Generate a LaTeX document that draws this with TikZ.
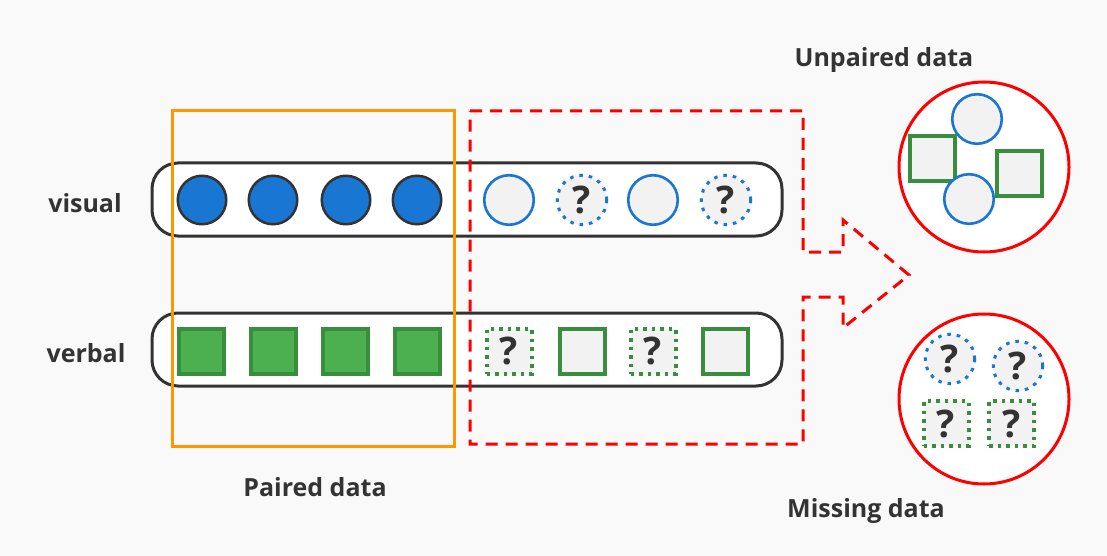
\documentclass[tikz,border=0pt]{standalone}
\usepackage{fontspec}
\setmainfont{Open Sans}
\definecolor{bggray}{HTML}{F9F9F9}
\definecolor{visblue}{HTML}{1976D2}
\definecolor{verbgreen}{HTML}{4CAF50}
\definecolor{darkgreen}{HTML}{388E3C}
\definecolor{ink}{HTML}{333333}
\definecolor{pale}{HTML}{F2F2F2}
\definecolor{pairorange}{HTML}{FF9800}

\begin{document}
\begin{tikzpicture}[x=1pt,y=-1pt,
    capsule/.style={draw=ink,line width=3pt,fill=white,rounded corners=26pt,minimum width=630pt,minimum height=73pt,inner sep=0pt},
    fullcirc/.style={circle,draw=ink,line width=2.5pt,fill=visblue,minimum size=48.5pt,inner sep=0pt},
    opencirc/.style={circle,draw=visblue,line width=2.6pt,fill=pale,minimum size=49.5pt,inner sep=0pt},
    misscirc/.style={opencirc,line width=3pt,dash pattern=on 3.5pt off 6pt,font=\fontsize{38}{38}\selectfont\bfseries,text=ink},
    fullsq/.style={draw=darkgreen,line width=4pt,fill=verbgreen,minimum size=45pt,inner sep=0pt},
    opensq/.style={draw=darkgreen,line width=4pt,fill=pale,minimum size=45pt,inner sep=0pt},
    misssq/.style={opensq,line width=4pt,dash pattern=on 3.5pt off 5pt,font=\fontsize{38}{38}\selectfont\bfseries,text=ink},
    lbl/.style={font=\fontsize{25}{30}\selectfont\bfseries,text=ink,anchor=base}
]

% canvas
\fill[bggray] (0,0) rectangle (1107,556);
\useasboundingbox (0,0) rectangle (1107,556);

% the two modality rows
\node[capsule] (visrow) at (467,199.5) {};
\node[capsule] (verbrow) at (467,349.5) {};
\node[lbl] (vislbl) at (85,212) {visual};
\node[lbl] (verblbl) at (86,362) {verbal};

% Paired data
\node[draw=pairorange,line width=3pt,minimum width=282pt,minimum height=335pt,inner sep=0pt] (paired) at (313,278.5) {};
\node[lbl] (pairedlbl) at (315,496) {Paired data};

% Unpaired / missing part with the arrow
\draw[red,line width=3pt,dash pattern=on 12pt off 8pt]
    (470,111) -- (803,111) -- (803,252) -- (843,252) -- (843,220) -- (909,275)
    -- (843,328) -- (843,297) -- (803,297) -- (803,444) -- (470,444) -- cycle;

% visual row
\node[fullcirc] (vis1) at (202,200) {};
\node[fullcirc] (vis2) at (273,200) {};
\node[fullcirc] (vis3) at (346,200) {};
\node[fullcirc] (vis4) at (417,200) {};
\node[opencirc] (vis5) at (509,200) {};
\node[misscirc] (vis6) at (582,200) {?};
\node[opencirc] (vis7) at (653,200) {};
\node[misscirc] (vis8) at (726,200) {?};

% verbal row
\node[fullsq] (verb1) at (201,351) {};
\node[fullsq] (verb2) at (273,351) {};
\node[fullsq] (verb3) at (345,351) {};
\node[fullsq] (verb4) at (417,351) {};
\node[misssq] (verb5) at (509,351) {?};
\node[opensq] (verb6) at (582,351) {};
\node[misssq] (verb7) at (653,351) {?};
\node[opensq] (verb8) at (725,351) {};

% Unpaired data
\node[circle,draw=red,line width=3pt,fill=white,minimum size=170pt,inner sep=0pt] (unpaired) at (984,167) {};
\node[opencirc] (upvis1) at (977,119) {};
\node[opensq] (upverb1) at (932,158.5) {};
\node[opencirc] (upvis2) at (969,199) {};
\node[opensq] (upverb2) at (1019.5,173.5) {};
\node[lbl] (unpairedlbl) at (884,67) {Unpaired data};

% Missing data
\node[circle,draw=red,line width=3pt,fill=white,minimum size=170pt,inner sep=0pt] (missing) at (984,399) {};
\node[misscirc] (mvis1) at (950,359) {?};
\node[misscirc] (mvis2) at (1018,366) {?};
\node[misssq] (mverb1) at (946,423.5) {?};
\node[misssq] (mverb2) at (1011.5,423.5) {?};
\node[lbl] (missinglbl) at (866,517) {Missing data};

\end{tikzpicture}
\end{document}
